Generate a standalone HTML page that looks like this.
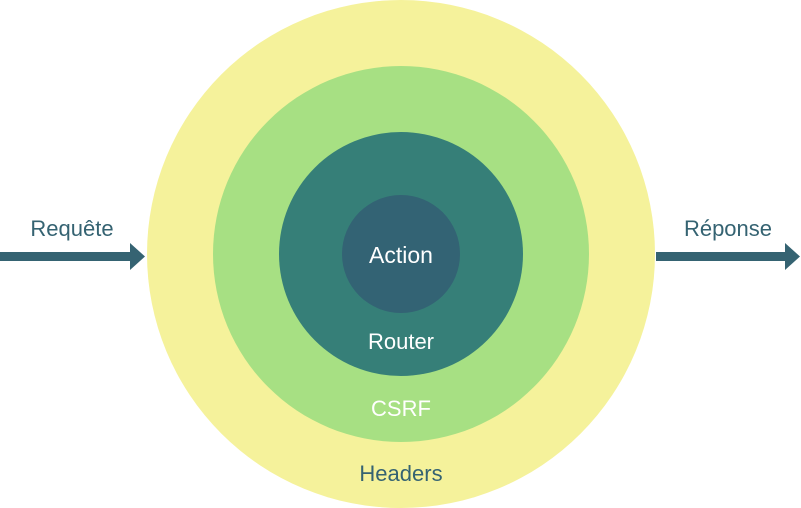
<!DOCTYPE html>
<html><head><style>
body{margin:0;background:#fff;}
svg{display:block;font-family:"Liberation Sans",sans-serif;}
</style></head><body>
<svg width="801" height="508" viewBox="0 0 801 508">
<circle cx="401" cy="254" r="254" fill="#f5f29b"/>
<circle cx="401" cy="254" r="188" fill="#a7e083"/>
<circle cx="401" cy="254" r="122" fill="#367f78"/>
<circle cx="401" cy="254" r="59" fill="#336374"/>
<text x="401" y="263" fill="#fff" font-size="23" text-anchor="middle">Action</text>
<text x="401" y="349" fill="#fff" font-size="22" text-anchor="middle">Router</text>
<text x="401" y="416" fill="#fff" font-size="22" text-anchor="middle">CSRF</text>
<text x="401" y="481" fill="#356372" font-size="22" text-anchor="middle">Headers</text>
<rect x="0" y="252" width="133" height="9" fill="#356372"/>
<polygon points="130,243 145,256.5 130,270" fill="#356372"/>
<text x="72" y="236" fill="#356372" font-size="22" text-anchor="middle">Requête</text>
<rect x="656" y="252" width="132" height="9" fill="#356372"/>
<polygon points="785,243 800,256.5 785,270" fill="#356372"/>
<text x="728" y="236" fill="#356372" font-size="22" text-anchor="middle">Réponse</text>
</svg>
</body></html>
